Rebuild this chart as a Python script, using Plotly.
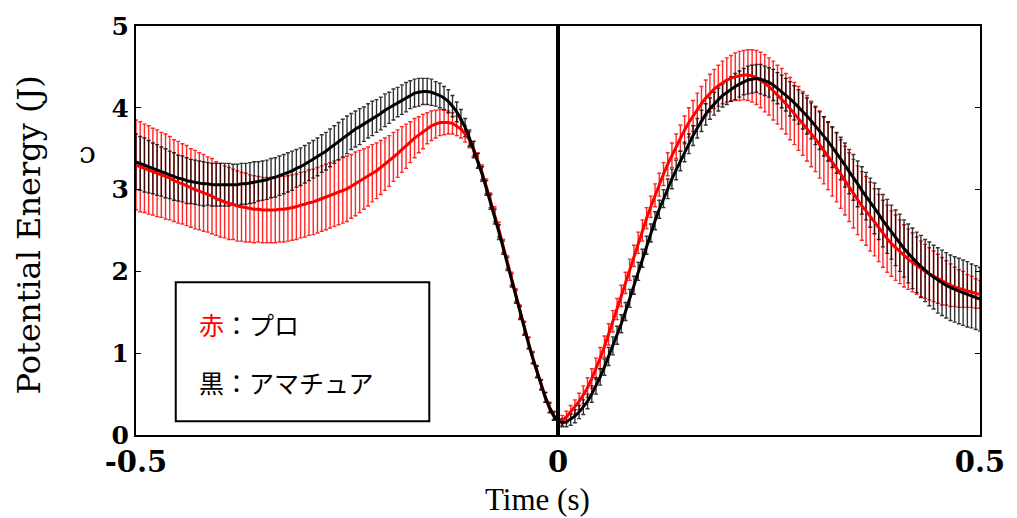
import numpy as np
import plotly.graph_objects as go

# time axis (s), 5 ms steps
time_s = np.round(np.arange(201) * 0.005 - 0.5, 3)

# 赤 : プロ  (mean potential energy, J)
pro_mean = [
    3.30, 3.28, 3.26, 3.24, 3.22, 3.20, 3.18, 3.16, 3.14, 3.11,
    3.09, 3.07, 3.05, 3.02, 3.00, 2.98, 2.96, 2.94, 2.92, 2.89,
    2.87, 2.85, 2.83, 2.82, 2.80, 2.79, 2.78, 2.77, 2.76, 2.76,
    2.75, 2.75, 2.75, 2.75, 2.76, 2.76, 2.77, 2.78, 2.79, 2.81,
    2.82, 2.84, 2.85, 2.87, 2.89, 2.91, 2.93, 2.95, 2.97, 2.99,
    3.01, 3.04, 3.07, 3.10, 3.13, 3.16, 3.20, 3.23, 3.27, 3.31,
    3.35, 3.40, 3.44, 3.49, 3.53, 3.58, 3.63, 3.67, 3.71, 3.75,
    3.78, 3.80, 3.82, 3.82, 3.82, 3.81, 3.78, 3.74, 3.68, 3.61,
    3.50, 3.36, 3.21, 3.04, 2.87, 2.70, 2.51, 2.31, 2.11, 1.91,
    1.71, 1.51, 1.31, 1.13, 0.95, 0.78, 0.62, 0.46, 0.34, 0.24,
    0.17, 0.18, 0.22, 0.28, 0.34, 0.41, 0.49, 0.58, 0.69, 0.81,
    0.94, 1.08, 1.23, 1.39, 1.54, 1.70, 1.86, 2.02, 2.19, 2.35,
    2.50, 2.65, 2.79, 2.93, 3.06, 3.19, 3.31, 3.42, 3.53, 3.63,
    3.73, 3.82, 3.90, 3.98, 4.05, 4.12, 4.18, 4.23, 4.27, 4.31,
    4.34, 4.36, 4.38, 4.39, 4.40, 4.40, 4.39, 4.37, 4.34, 4.30,
    4.26, 4.21, 4.16, 4.11, 4.05, 3.99, 3.93, 3.87, 3.81, 3.75,
    3.68, 3.62, 3.55, 3.48, 3.41, 3.34, 3.27, 3.19, 3.11, 3.03,
    2.95, 2.87, 2.80, 2.74, 2.67, 2.60, 2.53, 2.46, 2.40, 2.34,
    2.29, 2.24, 2.19, 2.15, 2.11, 2.07, 2.03, 2.00, 1.97, 1.94,
    1.91, 1.88, 1.86, 1.83, 1.81, 1.79, 1.78, 1.76, 1.75, 1.73,
    1.72,
]
pro_sd = [
    .55, .55, .54, .54, .53, .53, .52, .52, .51, .50,
    .50, .49, .49, .48, .48, .47, .47, .46, .46, .45,
    .45, .44, .44, .43, .43, .42, .42, .41, .41, .40,
    .40, .40, .40, .40, .40, .40, .40, .40, .40, .40,
    .40, .40, .40, .40, .40, .40, .40, .40, .40, .40,
    .40, .39, .39, .38, .37, .36, .35, .34, .33, .32,
    .31, .30, .29, .28, .27, .25, .24, .22, .21, .19,
    .18, .17, .16, .15, .14, .13, .12, .11, .10, .10,
    .09, .09, .09, .09, .09, .09, .09, .08, .08, .08,
    .08, .08, .08, .07, .07, .07, .06, .06, .06, .05,
    .05, .06, .07, .08, .09, .10, .11, .12, .12, .13,
    .13, .13, .13, .13, .13, .13, .13, .13, .13, .13,
    .13, .13, .13, .14, .14, .14, .14, .15, .15, .16,
    .17, .18, .19, .20, .21, .22, .23, .24, .25, .26,
    .27, .28, .29, .30, .30, .31, .32, .33, .34, .35,
    .35, .36, .36, .37, .37, .38, .38, .39, .39, .40,
    .40, .40, .41, .41, .41, .42, .42, .42, .42, .42,
    .42, .42, .42, .42, .42, .41, .41, .41, .41, .40,
    .40, .39, .38, .37, .36, .35, .34, .33, .32, .31,
    .30, .29, .27, .26, .24, .23, .22, .20, .19, .18,
    .17,
]

# 黒 : アマチュア
ama_mean = [
    3.34, 3.32, 3.30, 3.28, 3.26, 3.24, 3.22, 3.20, 3.18, 3.16,
    3.14, 3.13, 3.11, 3.10, 3.09, 3.08, 3.07, 3.07, 3.06, 3.06,
    3.06, 3.06, 3.06, 3.06, 3.06, 3.07, 3.07, 3.08, 3.09, 3.10,
    3.11, 3.12, 3.14, 3.15, 3.17, 3.19, 3.21, 3.23, 3.26, 3.28,
    3.31, 3.34, 3.37, 3.40, 3.44, 3.47, 3.51, 3.55, 3.59, 3.63,
    3.67, 3.71, 3.74, 3.77, 3.80, 3.84, 3.87, 3.90, 3.93, 3.97,
    4.00, 4.04, 4.07, 4.10, 4.13, 4.16, 4.18, 4.19, 4.20, 4.20,
    4.19, 4.17, 4.15, 4.12, 4.08, 4.02, 3.95, 3.86, 3.76, 3.63,
    3.49, 3.35, 3.19, 3.02, 2.85, 2.67, 2.48, 2.29, 2.09, 1.89,
    1.69, 1.49, 1.30, 1.12, 0.94, 0.77, 0.61, 0.46, 0.33, 0.23,
    0.17, 0.15, 0.16, 0.19, 0.23, 0.28, 0.34, 0.41, 0.50, 0.60,
    0.71, 0.83, 0.96, 1.09, 1.22, 1.36, 1.51, 1.67, 1.83, 2.00,
    2.16, 2.32, 2.47, 2.62, 2.76, 2.89, 3.01, 3.13, 3.24, 3.35,
    3.46, 3.56, 3.66, 3.75, 3.84, 3.92, 3.99, 4.05, 4.10, 4.15,
    4.19, 4.23, 4.26, 4.29, 4.32, 4.34, 4.35, 4.36, 4.35, 4.33,
    4.31, 4.28, 4.24, 4.20, 4.16, 4.11, 4.06, 4.01, 3.96, 3.90,
    3.84, 3.78, 3.72, 3.65, 3.59, 3.52, 3.45, 3.38, 3.30, 3.22,
    3.15, 3.07, 2.99, 2.92, 2.84, 2.77, 2.70, 2.62, 2.55, 2.48,
    2.41, 2.35, 2.28, 2.22, 2.16, 2.11, 2.06, 2.01, 1.97, 1.93,
    1.89, 1.86, 1.83, 1.80, 1.78, 1.76, 1.74, 1.72, 1.70, 1.68,
    1.66,
]
ama_sd = [
    .34, .33, .33, .32, .31, .31, .30, .30, .29, .29,
    .28, .28, .28, .27, .27, .27, .27, .26, .26, .26,
    .26, .26, .26, .25, .25, .25, .25, .25, .25, .24,
    .24, .24, .24, .24, .24, .24, .24, .24, .23, .23,
    .23, .23, .23, .23, .23, .23, .23, .23, .23, .23,
    .23, .22, .22, .22, .21, .21, .21, .20, .20, .20,
    .19, .19, .18, .18, .18, .17, .17, .17, .16, .16,
    .16, .15, .15, .14, .14, .13, .12, .12, .11, .10,
    .10, .09, .09, .09, .09, .09, .09, .08, .08, .08,
    .08, .08, .08, .07, .07, .07, .06, .06, .06, .05,
    .05, .05, .06, .07, .08, .08, .09, .09, .10, .10,
    .10, .10, .11, .11, .11, .11, .11, .11, .11, .11,
    .11, .11, .11, .11, .11, .11, .12, .12, .12, .12,
    .12, .12, .12, .12, .13, .13, .13, .14, .14, .14,
    .15, .15, .16, .16, .16, .17, .17, .17, .18, .18,
    .18, .19, .19, .20, .20, .21, .21, .21, .22, .22,
    .22, .23, .23, .24, .24, .25, .25, .26, .27, .27,
    .28, .28, .29, .29, .30, .31, .31, .32, .33, .33,
    .34, .35, .35, .36, .37, .37, .38, .38, .39, .39,
    .40, .40, .40, .40, .40, .40, .40, .40, .39, .39,
    .39,
]

x_ticks = [-0.5, 0, 0.5]
x_tick_labels = ["-0.5", "0", "0.5"]
y_ticks = [0, 1, 2, 3, 4, 5]

fig = go.Figure()

def bars(y, sd, color):
    return go.Scatter(
        x=time_s, y=y, mode="markers",
        marker=dict(size=1, color="rgba(0,0,0,0)"),
        error_y=dict(type="data", array=sd, visible=True,
                     color=color, thickness=1.4, width=2),
        showlegend=False, hoverinfo="skip",
    )

fig.add_trace(bars(pro_mean, pro_sd, "rgba(255,0,0,0.85)"))
fig.add_trace(bars(ama_mean, ama_sd, "rgba(0,0,0,0.8)"))
fig.add_trace(go.Scatter(x=time_s, y=pro_mean, mode="lines",
                         line=dict(color="#ff0000", width=3), showlegend=False))
fig.add_trace(go.Scatter(x=time_s, y=ama_mean, mode="lines",
                         line=dict(color="#000000", width=3), showlegend=False))

# vertical line at t = 0
fig.add_shape(type="line", xref="x", yref="paper", x0=0, x1=0, y0=0, y1=1,
              line=dict(color="black", width=4))

# legend box
fig.add_shape(type="rect", xref="paper", yref="paper",
              x0=0.0471, x1=0.3475, y0=0.0337, y1=0.3735,
              line=dict(color="black", width=2), fillcolor="rgba(0,0,0,0)")

cjk = "Noto Sans CJK JP"
fig.add_annotation(xref="paper", yref="paper", x=0.0718, y=0.272,
                   xanchor="left", yanchor="middle", showarrow=False,
                   text="<span style='color:#ff0000'>赤</span>：プロ",
                   font=dict(family=cjk, size=25, color="black"))
fig.add_annotation(xref="paper", yref="paper", x=0.0718, y=0.130,
                   xanchor="left", yanchor="middle", showarrow=False,
                   text="黒：アマチュア",
                   font=dict(family=cjk, size=25, color="black"))

# axis titles
fig.add_annotation(xref="paper", yref="paper", x=-0.127, y=0.49,
                   xanchor="center", yanchor="middle", showarrow=False,
                   textangle=-90, text="Potential Energy (J)",
                   font=dict(family="DejaVu Serif", size=32, color="black"))
fig.add_annotation(xref="paper", yref="paper", x=0.476, y=-0.157,
                   xanchor="center", yanchor="middle", showarrow=False,
                   text="Time (s)",
                   font=dict(family="Liberation Serif", size=31, color="black"))
fig.add_annotation(xref="paper", yref="paper", x=-0.0577, y=0.6916,
                   xanchor="center", yanchor="middle", showarrow=False,
                   text="ɔ",
                   font=dict(family="DejaVu Serif", size=30, color="black"))

fig.update_xaxes(range=[-0.5, 0.5], tickvals=x_ticks, ticktext=x_tick_labels,
                 showgrid=False, zeroline=False, showline=True, mirror=True,
                 linecolor="black", linewidth=2, ticks="",
                 tickfont=dict(family="DejaVu Serif", size=29, color="black",
                               weight="bold"))
fig.update_yaxes(range=[0, 5], tickvals=y_ticks, showgrid=False, zeroline=False,
                 showline=True, mirror="ticks", linecolor="black", linewidth=2,
                 ticks="inside", ticklen=5, tickcolor="black", tickwidth=1,
                 tickfont=dict(family="DejaVu Serif", size=25, color="black",
                               weight="bold"))

fig.update_layout(width=1017, height=518,
                  margin=dict(l=136, r=32, t=20, b=83),
                  paper_bgcolor="white", plot_bgcolor="white",
                  showlegend=False)

fig.write_html("out.html")
